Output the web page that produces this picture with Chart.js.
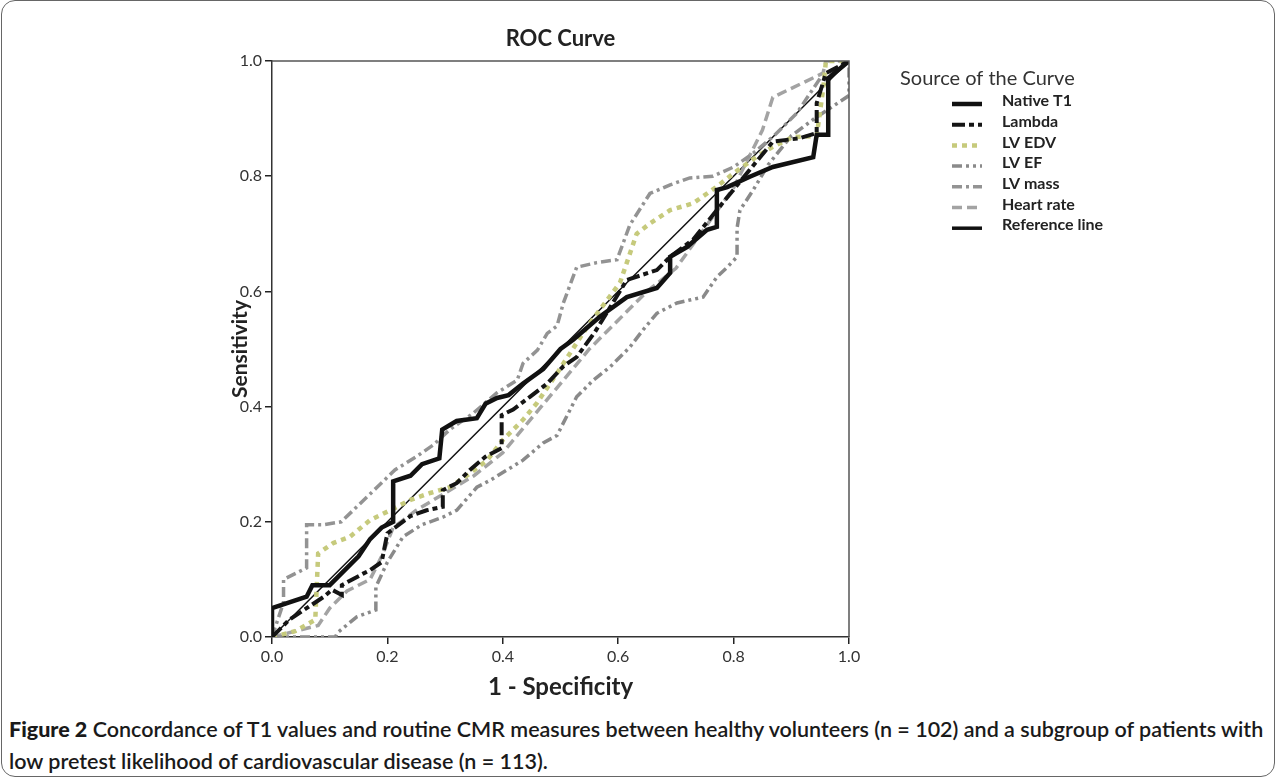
<!DOCTYPE html>
<html><head><meta charset="utf-8">
<script src="https://cdn.jsdelivr.net/npm/chart.js@4/dist/chart.umd.min.js"></script>
<style>
html,body{margin:0;padding:0;background:#fff;width:1282px;height:781px;overflow:hidden;}
#frame{position:absolute;left:1px;top:0px;width:1274px;height:777px;border:1.5px solid #666;border-radius:14px;box-sizing:border-box;}
#wrap{position:absolute;left:0;top:0;width:1282px;height:710px;}
#cap{position:absolute;left:9px;top:713px;width:1270px;font-family:Lato,"DejaVu Sans Condensed";font-size:20px;line-height:32px;color:#1a1a1a;font-weight:600;white-space:nowrap;}
#cap b{font-weight:900;}
</style></head>
<body>
<div id="frame"></div>
<div id="wrap"><canvas id="c" width="1282" height="710"></canvas></div>
<div id="cap"><span id="l1"><b>Figure 2</b> Concordance of T1 values and routine CMR measures between healthy volunteers (n = 102) and a subgroup of patients with</span><br>low pretest likelihood of cardiovascular disease (n = 113).</div>
<script>
// ---- data (1 - specificity, sensitivity) ----
const seriesNames = ["Native T1","Lambda","LV EDV","LV EF","LV mass","Heart rate","Reference line"];
const xTicks = [0,0.2,0.4,0.6,0.8,1.0];
const yTicks = [0,0.2,0.4,0.6,0.8,1.0];

const nativeT1 = [[0,0],[0,0.05],[0.06,0.07],[0.07,0.09],[0.1,0.09],[0.12,0.11],[0.15,0.14],[0.17,0.17],[0.19,0.19],[0.21,0.2],[0.21,0.27],[0.24,0.28],[0.26,0.3],[0.29,0.31],[0.295,0.36],[0.32,0.375],[0.355,0.38],[0.37,0.405],[0.39,0.415],[0.41,0.42],[0.435,0.44],[0.47,0.465],[0.5,0.5],[0.522,0.516],[0.568,0.556],[0.615,0.59],[0.667,0.606],[0.69,0.632],[0.69,0.66],[0.719,0.677],[0.754,0.707],[0.771,0.712],[0.771,0.776],[0.789,0.781],[0.828,0.799],[0.868,0.816],[0.938,0.833],[0.944,0.872],[0.964,0.872],[0.964,0.97],[1,1]];

const lambda = [[0,0],[0.03,0.03],[0.06,0.05],[0.09,0.07],[0.104,0.082],[0.121,0.073],[0.121,0.09],[0.158,0.11],[0.17,0.116],[0.19,0.13],[0.2,0.18],[0.24,0.21],[0.268,0.22],[0.296,0.226],[0.296,0.255],[0.32,0.267],[0.343,0.29],[0.37,0.313],[0.398,0.328],[0.398,0.385],[0.418,0.395],[0.447,0.417],[0.477,0.44],[0.505,0.47],[0.528,0.486],[0.56,0.53],[0.615,0.62],[0.667,0.637],[0.69,0.66],[0.73,0.69],[0.77,0.74],[0.823,0.805],[0.868,0.86],[0.915,0.866],[0.944,0.875],[0.944,0.927],[0.96,0.979],[1,1]];

const lvEDV = [[0,0],[0.04,0.01],[0.075,0.03],[0.08,0.145],[0.106,0.163],[0.135,0.174],[0.17,0.203],[0.205,0.22],[0.24,0.238],[0.274,0.25],[0.308,0.26],[0.343,0.284],[0.373,0.307],[0.4,0.342],[0.435,0.377],[0.459,0.406],[0.494,0.458],[0.546,0.538],[0.603,0.615],[0.632,0.7],[0.655,0.718],[0.69,0.741],[0.73,0.753],[0.771,0.782],[0.8,0.805],[0.84,0.834],[0.868,0.851],[0.903,0.868],[0.944,0.87],[0.955,0.95],[0.96,1],[1,1]];

const lvEF = [[0,0],[0.11,0],[0.113,0.007],[0.147,0.035],[0.18,0.047],[0.18,0.087],[0.2,0.13],[0.227,0.174],[0.26,0.195],[0.296,0.208],[0.32,0.22],[0.355,0.26],[0.378,0.272],[0.435,0.307],[0.47,0.337],[0.494,0.35],[0.528,0.417],[0.557,0.446],[0.586,0.469],[0.62,0.503],[0.643,0.533],[0.667,0.562],[0.702,0.58],[0.724,0.585],[0.747,0.59],[0.771,0.625],[0.789,0.642],[0.806,0.66],[0.806,0.71],[0.811,0.741],[0.834,0.776],[0.86,0.82],[0.9,0.87],[0.94,0.9],[0.97,0.92],[1,0.94],[1,1]];

const lvMass = [[0,0],[0.02,0.06],[0.02,0.1],[0.06,0.12],[0.06,0.195],[0.09,0.195],[0.12,0.2],[0.147,0.226],[0.182,0.26],[0.213,0.29],[0.25,0.313],[0.279,0.333],[0.308,0.36],[0.348,0.388],[0.39,0.424],[0.425,0.446],[0.435,0.475],[0.46,0.498],[0.477,0.527],[0.494,0.54],[0.505,0.58],[0.528,0.642],[0.563,0.65],[0.598,0.655],[0.62,0.715],[0.655,0.77],[0.69,0.785],[0.724,0.797],[0.764,0.8],[0.8,0.816],[0.834,0.84],[0.87,0.87],[0.91,0.91],[0.95,0.97],[1,1]];

const heartRate = [[0,0],[0.04,0.01],[0.08,0.02],[0.1,0.05],[0.13,0.08],[0.17,0.1],[0.19,0.14],[0.21,0.19],[0.25,0.22],[0.3,0.25],[0.35,0.28],[0.4,0.32],[0.45,0.38],[0.5,0.44],[0.55,0.5],[0.6,0.55],[0.65,0.6],[0.7,0.64],[0.75,0.71],[0.8,0.78],[0.85,0.88],[0.868,0.937],[0.955,0.979],[0.96,1],[1,1]];

const referenceLine = [[0,0],[1,1]];

const seriesData = [nativeT1, lambda, lvEDV, lvEF, lvMass, heartRate, referenceLine];
const seriesColors = ["#111111","#151515","#c6ca7c","#8a8a8a","#939393","#a3a3a3","#111111"];
const seriesWidths = [4.5,4,4.5,3.5,3.5,3.5,1.5];
const seriesDashes = [[],[13,4,5,4],[5,5],[10,4,3,4,3,4],[10,4,3,4],[10,5],[]];

const datasets = seriesNames.map((n,i)=>({
  label:n,
  data: seriesData[i].map(p=>({x:p[0],y:p[1]})),
  borderColor: seriesColors[i],
  backgroundColor: seriesColors[i],
  borderWidth: seriesWidths[i],
  borderDash: seriesDashes[i],
  borderCapStyle:'butt',
  borderJoinStyle:'miter',
  pointRadius:0,
  tension:0,
  fill:false
}));

const FONT = "Lato";

const framePlugin = {
  id:'framePlugin',
  afterDatasetsDraw(chart){
    const {ctx, chartArea:a} = chart;
    ctx.save();
    ctx.strokeStyle = '#555';
    ctx.lineWidth = 1.5;
    ctx.beginPath();
    ctx.moveTo(a.left, a.top); ctx.lineTo(a.right, a.top); ctx.lineTo(a.right, a.bottom);
    ctx.stroke();
    ctx.restore();
  },
  afterDraw(chart){
    const ctx = chart.ctx;
    ctx.save();
    ctx.fillStyle = '#333';
    ctx.textBaseline = 'middle';
    ctx.textAlign = 'left';
    ctx.font = `20px ${FONT}`;
    ctx.fillText('Source of the Curve', 900, 79);
    const y0 = 101, dy = 20.7;
    chart.data.datasets.forEach((ds,i)=>{
      const y = y0 + i*dy;
      ctx.strokeStyle = ds.borderColor;
      ctx.lineWidth = Math.max(ds.borderWidth, 3.5);
      ctx.setLineDash(ds.borderDash);
      ctx.beginPath(); ctx.moveTo(952, y+3); ctx.lineTo(982, y+3); ctx.stroke();
      ctx.setLineDash([]);
      ctx.fillStyle = '#222';
      ctx.font = `bold 16px ${FONT}`;
      ctx.fillText(ds.label, 1002, y);
    });
    ctx.restore();
  }
};

new Chart(document.getElementById('c'), {
  type:'line',
  data:{datasets},
  options:{
    responsive:false,
    animation:false,
    layout:{padding:{left:212, right:433, top:17, bottom:8}},
    plugins:{
      legend:{display:false},
      tooltip:{enabled:false},
      title:{display:true, text:'ROC Curve', fullSize:false, color:'#222',
        font:{family:FONT, size:22, weight:'bold'}, padding:{top:9,bottom:8.6}}
    },
    scales:{
      x:{type:'linear', min:0, max:1,
        afterFit(s){ s.height = 65; },
        afterBuildTicks(s){ s.ticks = xTicks.map(v=>({value:v})); },
        ticks:{color:'#333', font:{family:FONT, size:16}, padding:3, maxRotation:0,
          callback:(v)=>Number(v).toFixed(1)},
        grid:{display:true, drawOnChartArea:false, drawTicks:true, tickLength:7, color:'#222', lineWidth:1.5},
        border:{display:true, color:'#333', width:1.5},
        title:{display:true, text:'1 - Specificity', color:'#222', font:{family:FONT, size:24, weight:'bold'}, padding:{top:0,bottom:0}}
      },
      y:{type:'linear', min:0, max:1,
        afterFit(s){ s.width = 60; },
        afterBuildTicks(s){ s.ticks = yTicks.map(v=>({value:v})); },
        ticks:{color:'#333', font:{family:FONT, size:16}, padding:3,
          callback:(v)=>Number(v).toFixed(1)},
        grid:{display:true, drawOnChartArea:false, drawTicks:true, tickLength:7, color:'#222', lineWidth:1.5},
        border:{display:true, color:'#333', width:1.5},
        title:{display:true, text:'Sensitivity', color:'#222', font:{family:FONT, size:21, weight:'bold'}, padding:{top:16,bottom:0}}
      }
    }
  },
  plugins:[framePlugin]
});

// fit caption line 1 to the reference width
(function(){
  const cap = document.getElementById('cap');
  const l1 = document.getElementById('l1');
  const target = 1255;
  const w = l1.getBoundingClientRect().width;
  const fs = 20 * target / w;
  cap.style.fontSize = fs.toFixed(2)+'px';
})();
</script>
</body></html>
